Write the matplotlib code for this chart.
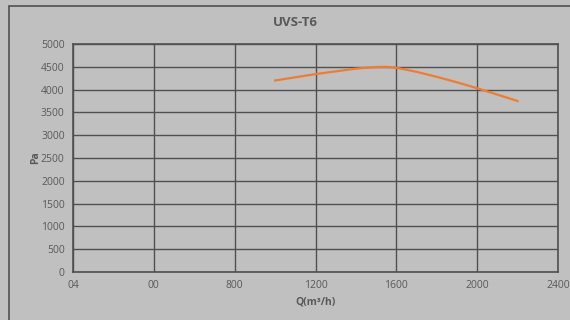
import matplotlib
matplotlib.use("Agg")
import matplotlib.pyplot as plt
from matplotlib.patches import Rectangle

# fan curve UVS-T6
flow = [1000, 1100, 1200, 1300, 1400, 1500, 1550, 1600, 1700, 1800, 1900, 2000, 2100, 2200]
pressure = [4200, 4270, 4340, 4400, 4460, 4495, 4500, 4480, 4390, 4280, 4160, 4030, 3890, 3750]
x_ticks = [0, 400, 800, 1200, 1600, 2000, 2400]
x_labels = ["04", "00", "800", "1200", "1600", "2000", "2400"]
y_ticks = [0, 500, 1000, 1500, 2000, 2500, 3000, 3500, 4000, 4500, 5000]

bg = "#c0c0c0"
grid = "#505050"
txt = "#595959"
plt.rcParams["font.family"] = ["Open Sans", "DejaVu Sans"]

fig = plt.figure(figsize=(5.7, 3.2), dpi=100, facecolor=bg)
fig.patches.append(Rectangle((9 / 570, -0.1), 1.2, (320 - 6) / 320 + 0.1,
                             transform=fig.transFigure, fill=False,
                             edgecolor=grid, linewidth=1.2))
ax = fig.add_axes([73 / 570, 48 / 320, 485 / 570, 228 / 320], facecolor=bg)

ax.plot(flow, pressure, color="#ed7d31", linewidth=1.6)

ax.set_xlim(0, 2400); ax.set_ylim(0, 5000)
ax.set_xticks(x_ticks, x_labels)
ax.set_yticks(y_ticks)
ax.grid(True, color=grid, linewidth=1.0)
ax.set_axisbelow(True)
for s in ax.spines.values():
    s.set_color(grid); s.set_linewidth(1.2)
ax.tick_params(length=0, labelsize=7.5, colors=txt, pad=6)

# title sits a bit left of the plot centre in the original
ax.set_title("UVS-T6", fontsize=9.5, fontweight="bold", color=txt, pad=13, x=0.458)
ax.set_xlabel("Q(m³/h)", fontsize=7.5, fontweight="bold", color=txt, labelpad=4)
ax.set_ylabel("Pa", fontsize=7.5, fontweight="bold", color=txt, labelpad=0)

fig.savefig("out.png", dpi=100, facecolor=bg)
